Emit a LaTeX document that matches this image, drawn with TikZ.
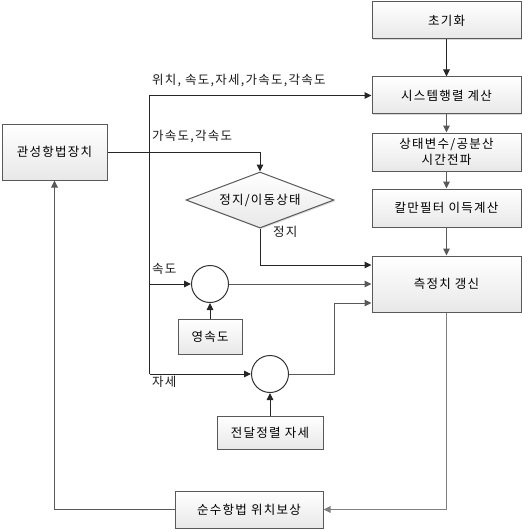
\documentclass[tikz,border=0pt]{standalone}
\usepackage{fontspec}
\setmainfont{Noto Sans CJK KR}[LetterSpace=10]
\usepackage{tikz}
\usetikzlibrary{arrows.meta, positioning, shapes.geometric, shadows}

\tikzset{
	blk/.style={shape=rectangle, draw=black!65, line width=1pt, inner sep=0pt, align=center,
		top color=white, bottom color=black!9, drop shadow={shadow xshift=1.2pt, shadow yshift=-1.2pt, fill=black!25, opacity=0.6}},
	sumnode/.style={shape=circle, draw=black!80, line width=1pt, fill=white, minimum size=37pt, inner sep=0pt},
	wire/.style={draw=black!85, line width=1pt},
	flow/.style={draw=black!65, line width=1pt},
	tip/.style={-{Triangle[length=7pt, width=6.5pt]}},
	lbl/.style={anchor=west, inner sep=0pt, text=black!90}
}

\begin{document}
\begin{tikzpicture}[x=1pt, y=-1pt, font=\fontsize{12.5}{15}\selectfont]
	\useasboundingbox (0, 0) rectangle (532, 532);
	% Blocks:
	\node[blk, minimum width=149pt, minimum height=37pt] (init) at (446.5, 20.5){초기화};
	\node[blk, minimum width=149pt, minimum height=37pt] (sysmat) at (446.5, 95.5){시스템행렬 계산};
	\node[blk, minimum width=149pt, minimum height=38pt] (prop) at (446.5, 152){상태변수/공분산\\[0.5pt]시간전파};
	\node[blk, minimum width=149pt, minimum height=38pt] (gain) at (446.5, 208){칼만필터 이득계산};
	\node[blk, minimum width=149pt, minimum height=56pt] (update) at (446.5, 284){측정치 갱신};
	\node[blk, minimum width=105pt, minimum height=56pt] (ins) at (54.5, 152){관성항법장치};
	\node[blk, shape=diamond, shape aspect=2.64, minimum width=148pt, minimum height=56pt] (detect) at (260, 200){정지/이동상태};
	\node[sumnode] (vsum) at (210, 284){};
	\node[blk, minimum width=64pt, minimum height=35pt] (zvel) at (210, 336.5){영속도};
	\node[sumnode] (asum) at (270, 374){};
	\node[blk, minimum width=106pt, minimum height=33pt] (talign) at (270, 432.5){전달정렬 자세};
	\node[blk, minimum width=148pt, minimum height=37pt] (comp) at (249, 509.5){순수항법 위치보상};
	% Bus and branch points:
	\coordinate (B1) at (149.5, 95.5);
	\coordinate (B2) at (149.5, 284);
	\coordinate (B3) at (149.5, 374);
	\coordinate (A1) at (334, 374);
	% Paths:
	\draw[wire] (B1) -- (B3);
	\draw[wire, tip] (B1) -- (sysmat.west);
	\draw[wire, tip] (B2) -- (vsum.west);
	\draw[wire, tip] (B3) -- (asum.west);
	\draw[wire, tip] (ins.east) -| (detect.north);
	\draw[wire, tip] (detect.south) |- ([yshift=19pt]update.west);
	\draw[flow, tip] (vsum.east) -- (update.west);
	\draw[flow, tip] (asum.east) -- (A1) |- ([yshift=-19pt]update.west);
	\draw[wire, tip] (zvel.north) -- (vsum.south);
	\draw[wire, tip] (talign.north) -- (asum.south);
	\draw[wire, tip] (init.south) -- (sysmat.north);
	\draw[flow, tip] (sysmat.south) -- (prop.north);
	\draw[flow, tip] (prop.south) -- (gain.north);
	\draw[flow, tip] (gain.south) -- (update.north);
	\draw[flow, draw=black!50, tip] (update.south) |- (comp.east);
	\draw[flow, tip] (comp.west) -| (ins.south);
	% Labels:
	\node[lbl] (L1) at (152, 81){위치, 속도,자세,가속도,각속도};
	\node[lbl] (L2) at (152, 136.5){가속도,각속도};
	\node[lbl] (L3) at (273, 232){정지};
	\node[lbl] (L4) at (152, 268.5){속도};
	\node[lbl] (L5) at (152, 382){자세};
\end{tikzpicture}
\end{document}
